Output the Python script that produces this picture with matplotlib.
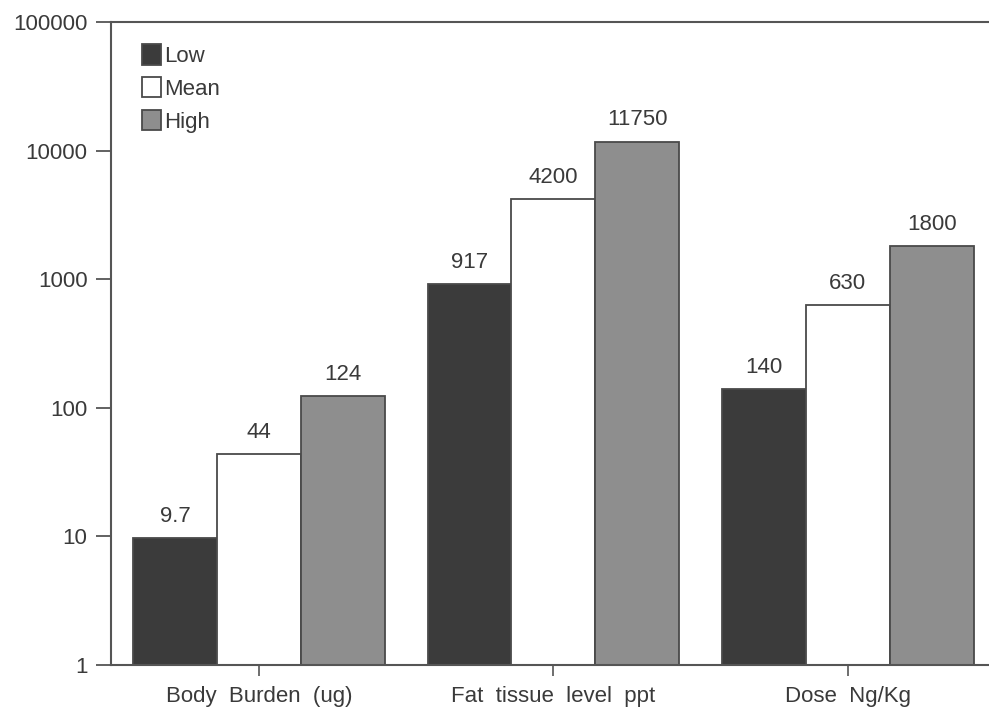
import matplotlib
matplotlib.use("Agg")
import matplotlib.pyplot as plt
import numpy as np
from matplotlib.ticker import FixedLocator, NullLocator

categories = ["Body  Burden  (ug)", "Fat  tissue  level  ppt", "Dose  Ng/Kg"]
series_names = ["Low", "Mean", "High"]
low = [9.7, 917, 140]
mean = [44, 4200, 630]
high = [124, 11750, 1800]
low_labels = ["9.7", "917", "140"]
mean_labels = ["44", "4200", "630"]
high_labels = ["124", "11750", "1800"]
ytick_vals = [1, 10, 100, 1000, 10000, 100000]
ytick_labels = ["1", "10", "100", "1000", "10000", "100000"]

plt.rcParams['font.family'] = ['Liberation Sans', 'DejaVu Sans']
txtc = "#3a3a3a"
edge = "#4a4a4a"
fs = 16

fig = plt.figure(figsize=(9.89, 7.13), dpi=100)
ax = fig.add_axes([111/989, 48/713, 1 - 111/989, (665-22)/713])

x = np.arange(len(categories))
w = 0.285
colors = ["#3b3b3b", "#ffffff", "#8e8e8e"]
data = [low, mean, high]
labels = [low_labels, mean_labels, high_labels]
for i, (vals, col, name, labs) in enumerate(zip(data, colors, series_names, labels)):
    pos = x + (i - 1) * w
    ax.bar(pos, vals, width=w, color=col, edgecolor=edge, linewidth=1.3, label=name, zorder=2)
    for p, v, l in zip(pos, vals, labs):
        ax.annotate(l, (p, v), xytext=(0, 8), textcoords="offset points",
                    ha="center", va="bottom", fontsize=fs, color=txtc)

ax.set_yscale("log")
ax.set_ylim(1, 100000)
ax.set_xlim(-0.503, 2.48)
ax.yaxis.set_major_locator(FixedLocator(ytick_vals))
ax.yaxis.set_minor_locator(NullLocator())
ax.set_yticklabels(ytick_labels)
ax.set_xticks(x)
ax.set_xticklabels(categories)

ax.spines["right"].set_visible(False)
for s in ["left", "top", "bottom"]:
    ax.spines[s].set_color("#555555")
    ax.spines[s].set_linewidth(1.5)

ax.tick_params(axis="y", length=11, width=1.3, color="#555555", labelsize=fs, labelcolor=txtc, pad=6)
ax.tick_params(axis="x", length=8, width=1.2, color="#555555", labelsize=fs, labelcolor=txtc, pad=7)

leg = ax.legend(loc="upper left", bbox_to_anchor=(0.018, 0.99), frameon=False, fontsize=fs,
                handlelength=0.85, handleheight=1.05, handletextpad=0.15, labelspacing=0.45,
                labelcolor=txtc, borderaxespad=0.3)

fig.savefig("out.png", dpi=100)
